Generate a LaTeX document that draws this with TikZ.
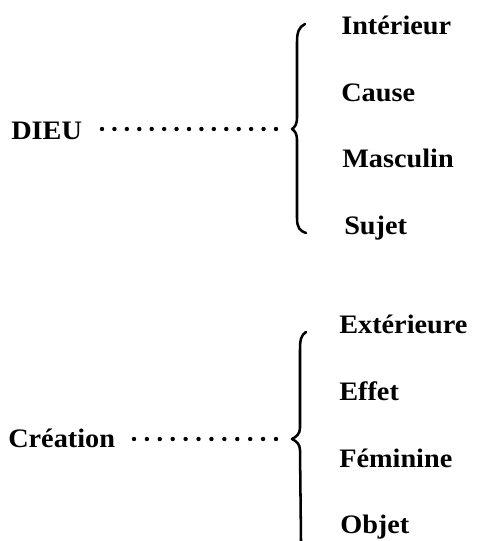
\documentclass[tikz,border=0pt]{standalone}
\usepackage{fontspec}
\setmainfont{Liberation Serif}[FakeStretch=1.06]
\begin{document}
\begin{tikzpicture}[x=0.75pt,y=-0.75pt,
  word/.style={anchor=base west,inner sep=0pt,font=\fontsize{20}{24}\selectfont\bfseries},
  leader/.style={line width=3.3pt,line cap=round,dash pattern=on 0pt off #1},
  brace/.style={line width=1.9pt,line cap=round,line join=round}]
\useasboundingbox (0,0) rectangle (478,541);

% upper group
\node[word] (dieu) at (11,140) {DIEU};
\coordinate (dA) at (102,129);
\coordinate (eA) at (276,129);
\coordinate (tipA) at (292,129);
\draw[leader=9.32pt] (dA) -- (eA);
\draw[brace] (305,24) .. controls (299,27) and (297,32) .. (297,42)
  -- (297,118) .. controls (297,124) and (295,127) .. (tipA)
  .. controls (295,131) and (297,134) .. (297,140)
  -- (297,218) .. controls (297,228) and (300,231) .. (306,233);
\node[word] (l1) at (341,35) {Intérieur};
\node[word] (l2) at (341,102) {Cause};
\node[word] (l3) at (342,168) {Masculin};
\node[word] (l4) at (344,234) {Sujet};

% lower group
\node[word] (crea) at (8,447) {Création};
\coordinate (dB) at (134,439);
\coordinate (eB) at (276,439);
\coordinate (tipB) at (292,439);
\draw[leader=9.68pt] (dB) -- (eB);
\draw[brace] (306,332) .. controls (301,335) and (300,340) .. (300,350)
  -- (300,428) .. controls (300,434) and (296,437) .. (tipB)
  .. controls (296,441) and (300,444) .. (300,450)
  -- (301,541);
\node[word] (m1) at (339,333) {Extérieure};
\node[word] (m2) at (339,400) {Effet};
\node[word] (m3) at (339,467) {Féminine};
\node[word] (m4) at (340,533) {Objet};
\end{tikzpicture}
\end{document}
